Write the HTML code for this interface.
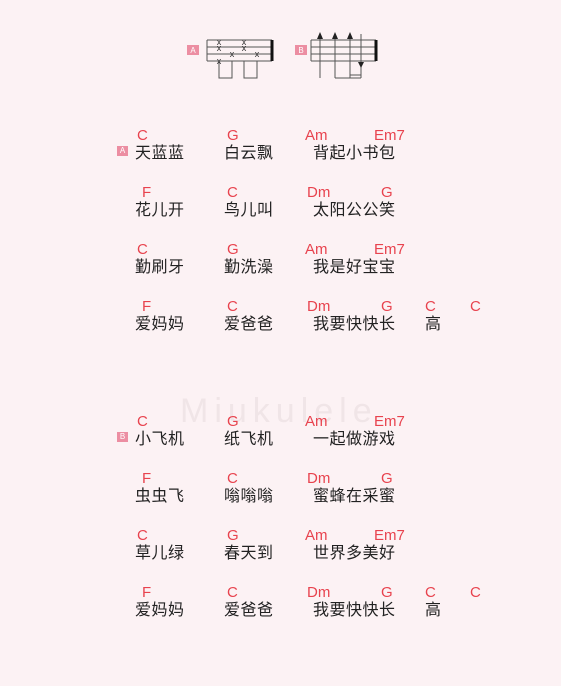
<!DOCTYPE html>
<html><head><meta charset="utf-8"><style>
body{margin:0;width:561px;height:686px;background:#fcf2f4;position:relative;overflow:hidden;font-family:"Liberation Sans","Noto Sans CJK SC",sans-serif}
.c{position:absolute;color:#e8434e;font-size:15px;line-height:18px;white-space:nowrap}
.l{position:absolute;color:#222;font-size:16px;line-height:20px;white-space:nowrap;letter-spacing:0.5px}
.tag{position:absolute;width:11px;height:10px;background:#ec8ea2;color:#fff;font-size:8px;line-height:10px;text-align:center}
.wm{position:absolute;color:rgba(200,180,185,0.22);font-size:34px;letter-spacing:6px}
</style></head><body>
<svg style="position:absolute;left:0;top:0" width="561" height="100">
<rect x="187" y="45" width="12" height="10" fill="#ec8ea2"/><text x="193" y="53" font-size="8" fill="#fff" text-anchor="middle">A</text>
<g stroke="#555" stroke-width="1" fill="none">
<line x1="207" y1="40" x2="272" y2="40"/><line x1="207" y1="47" x2="272" y2="47"/><line x1="207" y1="54" x2="272" y2="54"/><line x1="207" y1="61" x2="272" y2="61"/>
<line x1="207" y1="40" x2="207" y2="61"/>
<polyline points="219,61 219,78 232,78 232,61"/><polyline points="244,61 244,78 257,78 257,61"/>
</g>
<line x1="272" y1="40" x2="272" y2="61" stroke="#111" stroke-width="3"/>
<g font-size="9" fill="#333" text-anchor="middle"><text x="219" y="45">x</text><text x="219" y="51">x</text><text x="232" y="57">x</text><text x="219" y="64">x</text><text x="244" y="45">x</text><text x="244" y="51">x</text><text x="257" y="57">x</text></g>
<rect x="295" y="45" width="12" height="10" fill="#ec8ea2"/><text x="301" y="53" font-size="8" fill="#fff" text-anchor="middle">B</text>
<g stroke="#555" stroke-width="1" fill="none">
<line x1="311" y1="40" x2="376" y2="40"/><line x1="311" y1="47" x2="376" y2="47"/><line x1="311" y1="54" x2="376" y2="54"/><line x1="311" y1="61" x2="376" y2="61"/>
<line x1="311" y1="40" x2="311" y2="61"/>
<line x1="320" y1="34" x2="320" y2="78"/><line x1="335" y1="34" x2="335" y2="78"/><line x1="350" y1="34" x2="350" y2="78"/><line x1="361" y1="34" x2="361" y2="78"/>
<polyline points="335,78 361,78"/><line x1="350" y1="75" x2="361" y2="75"/>
</g>
<g fill="#222"><polygon points="320,32 317,39 323,39"/><polygon points="335,32 332,39 338,39"/><polygon points="350,32 347,39 353,39"/><polygon points="361,68 358,62 364,62"/></g>
<line x1="376" y1="40" x2="376" y2="61" stroke="#111" stroke-width="3"/>
</svg>
<div class="wm" style="left:180px;top:392px">Miukulele</div>
<div class="tag" style="left:117px;top:146px">A</div>
<div class="tag" style="left:117px;top:432px">B</div>
<div id="s"></div>
<script>
const rowsY=[133,190,247,304,419,476,533,590];
const chords=[
[["C",137],["G",227],["Am",305],["Em7",374]],
[["F",142],["C",227],["Dm",307],["G",381]],
[["C",137],["G",227],["Am",305],["Em7",374]],
[["F",142],["C",227],["Dm",307],["G",381],["C",425],["C",470]],
[["C",137],["G",227],["Am",305],["Em7",374]],
[["F",142],["C",227],["Dm",307],["G",381]],
[["C",137],["G",227],["Am",305],["Em7",374]],
[["F",142],["C",227],["Dm",307],["G",381],["C",425],["C",470]]];
const lyrics=[
[["天蓝蓝",135],["白云飘",224],["背起小书包",313]],
[["花儿开",135],["鸟儿叫",224],["太阳公公笑",313]],
[["勤刷牙",135],["勤洗澡",224],["我是好宝宝",313]],
[["爱妈妈",135],["爱爸爸",224],["我要快快长",313],["高",425]],
[["小飞机",135],["纸飞机",224],["一起做游戏",313]],
[["虫虫飞",135],["嗡嗡嗡",224],["蜜蜂在采蜜",313]],
[["草儿绿",135],["春天到",224],["世界多美好",313]],
[["爱妈妈",135],["爱爸爸",224],["我要快快长",313],["高",425]]];
const s=document.getElementById('s');
rowsY.forEach((y,i)=>{
 chords[i].forEach(([t,x])=>{const d=document.createElement('div');d.className='c';
 
 
 d.style.left=x+'px';d.style.top=(y-6)+'px';d.textContent=t;s.appendChild(d);});
 lyrics[i].forEach(([t,x])=>{const d=document.createElement('div');d.className='l';
 
 
 d.style.left=x+'px';d.style.top=(y+11)+'px';d.textContent=t;s.appendChild(d);});
});
</script>
</body></html>
